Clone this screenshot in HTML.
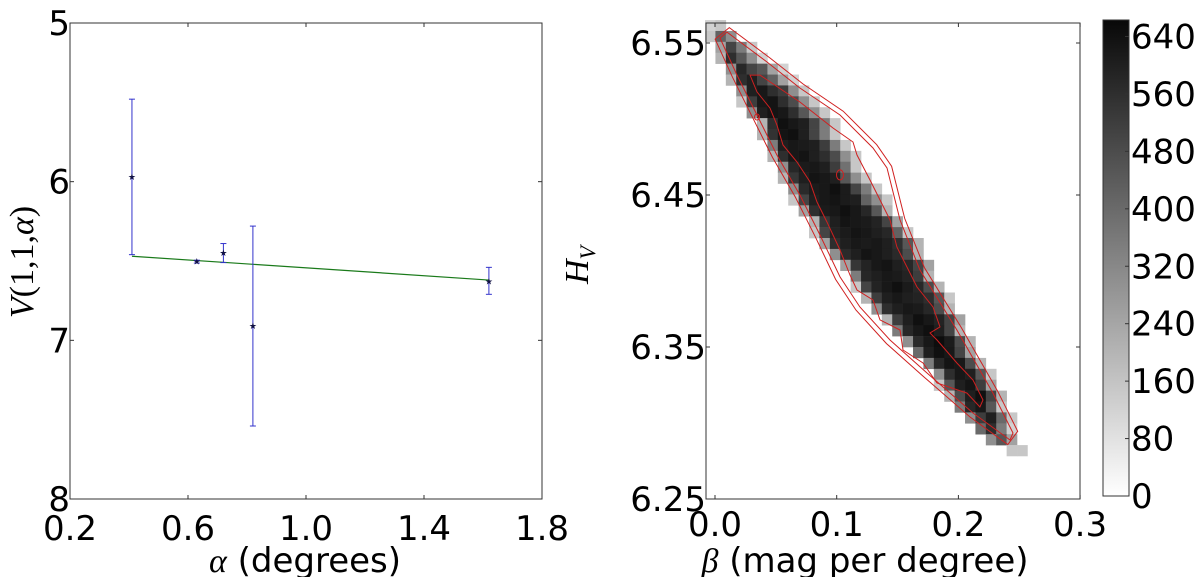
<!DOCTYPE html>
<html><head><meta charset="utf-8"><style>
html,body{margin:0;padding:0;background:#fff;}
svg{display:block;font-family:"DejaVu Sans","Liberation Sans",sans-serif;}
</style></head><body>
<svg id="fig" width="1200" height="577" viewBox="0 0 1200 577" xmlns="http://www.w3.org/2000/svg"></svg>
<script>
// ---- Left panel data ----
const alphaVals = [0.41, 0.63, 0.72, 0.82, 1.62];
const magVals   = [5.97, 6.504, 6.45, 6.91, 6.63];
const errLow    = [5.48, 6.495, 6.39, 6.28, 6.54];
const errHigh   = [6.46, 6.513, 6.51, 7.54, 6.71];
const fitAlpha  = [0.41, 1.62];
const fitMag    = [6.47, 6.62];
const leftXTicks = [0.2, 0.6, 1.0, 1.4, 1.8];
const leftXLabels = ["0.2","0.6","1.0","1.4","1.8"];
const leftYTicks = [5, 6, 7, 8];
const leftYLabels = ["5","6","7","8"];

// ---- Right panel data ----
const binBeta0 = -0.0082, binBetaW = 0.008546;
const binH0 = 6.5651, binHH = 0.00717;
const rowStart = [0,0,1,1,2,2,3,3,4,5,5,6,6,7,7,8,8,9,10,10,11,12,13,14,14,15,16,17,18,19,20,21,22,22,23,24,25,26,27,29];
const rowCounts = [
[120,150],[150,420,300],[250,500,350,150],[200,560,450,300,120],[300,580,500,450,250,120],
[200,560,600,500,420,250,120],[300,600,620,560,520,300,150],[150,520,620,630,560,480,300,150],[300,600,630,620,560,450,300,150],[200,560,640,620,600,500,350,150],
[200,550,630,640,600,500,350,150],[350,600,620,610,600,520,350,150],[200,560,620,630,600,560,480,300,150],[300,580,610,620,600,520,380,150],[200,540,600,630,620,600,450,300,150],
[300,570,610,620,640,610,500,350,150],[150,500,600,620,630,610,600,420,300,150],[250,560,610,620,640,620,580,450,200],[200,540,600,630,620,610,590,500,250],[150,500,590,610,630,620,600,580,420,150],
[250,560,600,620,610,620,600,560,450,200],[300,570,600,630,620,600,570,480,200],[250,540,590,620,630,600,580,500,250],[350,580,600,620,610,590,520,200],[150,500,590,620,640,610,580,480,200],
[200,520,600,620,600,590,560,450,150],[300,560,600,620,610,580,480,200],[200,520,600,640,620,590,500,250],[350,580,620,640,600,500,200],[300,570,620,650,610,480,200],
[400,600,640,620,500,250],[350,580,630,620,480,200],[300,560,620,600,450,150],[150,450,600,630,520,250],[200,480,600,640,500,200],
[350,580,620,450,150],[300,520,600,400,150],[400,560,350,120],[300,450,250],[150,150]
];
const outerBeta = [0.0041,0.0181,0.0345,0.0509,0.0698,0.0863,0.1027,0.1191,0.1438,0.1742,0.2120,0.2424,0.2449,0.2284,0.1988,0.1684,0.1520,0.1413,0.1298,0.1027,0.0698,0.0427,0.0099];
const outerH    = [6.5533,6.5289,6.5026,6.4763,6.45,6.4237,6.3961,6.3763,6.3546,6.3329,6.3066,6.2888,6.2934,6.3197,6.3612,6.4007,6.4336,6.4678,6.4809,6.5026,6.5204,6.5375,6.5572];
const innerBeta = [0.0288,0.0345,0.0452,0.0509,0.0559,0.0674,0.0781,0.0838,0.0920,0.1027,0.1109,0.1167,0.1298,0.1356,0.1520,0.1545,0.1709,0.1824,0.2071,0.2177,0.2202,0.2120,0.1988,0.1824,0.1767,0.1849,0.1791,0.1660,0.1495,0.1438,0.1274,0.1167,0.1134,0.0970,0.0698,0.0370];
const innerH    = [6.5289,6.5178,6.5072,6.4961,6.4829,6.4717,6.4586,6.4454,6.4322,6.4138,6.3974,6.3875,6.3809,6.3678,6.3612,6.3480,6.3395,6.3263,6.3197,6.3105,6.3151,6.3283,6.3395,6.3546,6.3592,6.3632,6.3763,6.3895,6.4158,6.4336,6.4599,6.4763,6.4849,6.4941,6.5112,6.5289];
const peakBeta = [0.0345, 0.1027];
const peakH = [6.5013, 6.4632];
const rightXTicks = [0.0, 0.1, 0.2, 0.3];
const rightXLabels = ["0.0","0.1","0.2","0.3"];
const rightYTicks = [6.25, 6.35, 6.45, 6.55];
const rightYLabels = ["6.25","6.35","6.45","6.55"];
const cbTicks = [0,80,160,240,320,400,480,560,640];
const cbMax = 663;

const NS="http://www.w3.org/2000/svg";
const svg=document.getElementById('fig');
function mk(tag, attrs, parent){const e=document.createElementNS(NS,tag);for(const k in attrs)e.setAttribute(k,attrs[k]);(parent||svg).appendChild(e);return e;}

const FS=34;
const L={x0:70,x1:542,y0:23,y1:499};
const lx=a=>L.x0+(a-0.2)/1.6*(L.x1-L.x0);
const ly=v=>L.y0+(v-5)/3*(L.y1-L.y0);
const R={x0:706,x1:1080,y0:23,y1:499};
const rx=b=>715+b*1217;
const ry=h=>43+(6.55-h)*1520;
const gray=v=>{const g=Math.round(255*(1-Math.min(v,cbMax)/cbMax*0.97));return `rgb(${g},${g},${g})`;};

// ---- Left panel ----
const gl=mk('g',{});


const fit=mk('line',{x1:lx(fitAlpha[0]),y1:ly(fitMag[0]),x2:lx(fitAlpha[1]),y2:ly(fitMag[1]),stroke:'#1a7a1a','stroke-width':1.2},gl);


for(let i=0;i<alphaVals.length;i++){
  const x=lx(alphaVals[i]);
  const g=mk('g',{},gl);
  
  
  mk('line',{x1:x,y1:ly(errLow[i]),x2:x,y2:ly(errHigh[i]),stroke:'#3333cc','stroke-width':1},g);
  mk('line',{x1:x-3,y1:ly(errLow[i]),x2:x+3,y2:ly(errLow[i]),stroke:'#3333cc','stroke-width':1},g);
  mk('line',{x1:x-3,y1:ly(errHigh[i]),x2:x+3,y2:ly(errHigh[i]),stroke:'#3333cc','stroke-width':1},g);
  mk('text',{x:x,y:ly(magVals[i])+3,'font-size':9,'text-anchor':'middle',fill:'#111144'},g).textContent='★';
}
const lframe=mk('rect',{x:L.x0,y:L.y0,width:L.x1-L.x0,height:L.y1-L.y0,fill:'none',stroke:'#333','stroke-width':1},gl);


leftXTicks.forEach((t,i)=>{const x=lx(t);
  mk('line',{x1:x,y1:L.y1,x2:x,y2:L.y1-4,stroke:'#333'},gl);mk('line',{x1:x,y1:L.y0,x2:x,y2:L.y0+4,stroke:'#333'},gl);
  const tx=mk('text',{x:x,y:540,'font-size':FS,'text-anchor':'middle'},gl);tx.textContent=leftXLabels[i];
  
  });
leftYTicks.forEach((t,i)=>{const y=ly(t);
  mk('line',{x1:L.x0,y1:y,x2:L.x0+4,y2:y,stroke:'#333'},gl);mk('line',{x1:L.x1,y1:y,x2:L.x1-4,y2:y,stroke:'#333'},gl);
  const tx=mk('text',{x:70,y:y+12,'font-size':FS,'text-anchor':'end'},gl);tx.textContent=leftYLabels[i];
  
  });
const lxt=mk('text',{x:305,y:572,'font-size':FS,'text-anchor':'middle'},gl);
lxt.innerHTML='<tspan font-family="Liberation Serif,serif" font-style="italic">α</tspan> (degrees)';


const lyt=mk('text',{x:0,y:0,'font-size':FS,'text-anchor':'middle','font-family':'Liberation Serif,serif',transform:'translate(33,262) rotate(-90)'},gl);
lyt.innerHTML='<tspan font-style="italic">V</tspan>(1,1,<tspan font-style="italic">α</tspan>)';



// ---- Right panel ----
const gr=mk('g',{});


const cells=mk('g',{},gr);


rowCounts.forEach((row,r)=>{row.forEach((v,k)=>{
  const c=rowStart[r]+k;
  const b0=binBeta0+c*binBetaW, b1=b0+binBetaW;
  const h0=binH0-r*binHH, h1=h0-binHH;
  const x=rx(b0), y=ry(h0);
  const cell=mk('rect',{x:x,y:y,width:rx(b1)-x+0.3,height:ry(h1)-y+0.3,fill:gray(v)},cells);
  
  
});});
function polyPts(bs,hs,off){
  const n=bs.length,pts=[];
  const P=bs.map((b,i)=>[rx(b),ry(hs[i])]);
  let cx=0,cy=0;P.forEach(p=>{cx+=p[0];cy+=p[1];});cx/=n;cy/=n;
  for(let i=0;i<n;i++){
    const a=P[(i-1+n)%n],b=P[(i+1)%n];
    let nx=b[1]-a[1],ny=-(b[0]-a[0]);const len=Math.hypot(nx,ny)||1;nx/=len;ny/=len;
    if((P[i][0]-cx)*nx+(P[i][1]-cy)*ny<0){nx=-nx;ny=-ny;}
    pts.push((P[i][0]+nx*off).toFixed(1)+','+(P[i][1]+ny*off).toFixed(1));
  }
  return pts.join(' ');
}
const c1=mk('polygon',{points:polyPts(outerBeta,outerH,0),fill:'none',stroke:'#d02020','stroke-width':1},gr);


const c2=mk('polygon',{points:polyPts(outerBeta,outerH,5),fill:'none',stroke:'#d02020','stroke-width':1},gr);


const c3=mk('polygon',{points:polyPts(innerBeta,innerH,0),fill:'none',stroke:'#d02020','stroke-width':1},gr);


peakBeta.forEach((b,i)=>{const e=mk('ellipse',{cx:rx(b),cy:ry(peakH[i]),rx:i?3.5:2.5,ry:i?5:3,fill:'none',stroke:'#d02020','stroke-width':1},gr);
  
  });
const rframe=mk('rect',{x:R.x0,y:R.y0,width:R.x1-R.x0,height:R.y1-R.y0,fill:'none',stroke:'#333','stroke-width':1},gr);


rightXTicks.forEach((t,i)=>{const x=rx(t);
  mk('line',{x1:x,y1:R.y1,x2:x,y2:R.y1-4,stroke:'#333'},gr);mk('line',{x1:x,y1:R.y0,x2:x,y2:R.y0+4,stroke:'#333'},gr);
  const tx=mk('text',{x:x,y:536,'font-size':FS,'text-anchor':'middle'},gr);tx.textContent=rightXLabels[i];
  
  });
rightYTicks.forEach((t,i)=>{const y=ry(t);
  mk('line',{x1:R.x0,y1:y,x2:R.x0+4,y2:y,stroke:'#333'},gr);mk('line',{x1:R.x1,y1:y,x2:R.x1-4,y2:y,stroke:'#333'},gr);
  const tx=mk('text',{x:706,y:y+12,'font-size':FS,'text-anchor':'end'},gr);tx.textContent=rightYLabels[i];
  
  });
const rxt=mk('text',{x:865,y:572,'font-size':FS,'text-anchor':'middle'},gr);
rxt.innerHTML='<tspan font-family="Liberation Serif,serif" font-style="italic">β</tspan> (mag per degree)';


const ryt=mk('text',{x:0,y:0,'font-size':FS,'text-anchor':'middle','font-family':'Liberation Serif,serif','font-style':'italic',transform:'translate(588,265) rotate(-90)'},gr);
ryt.innerHTML='H<tspan font-size="22" dy="7">V</tspan>';



// ---- Colorbar ----
const cb={x:1103,w:26,y0:20,y1:496};
const gc=mk('g',{});


const defs=mk('defs',{},gc);
const lg=mk('linearGradient',{id:'cbg',x1:0,y1:1,x2:0,y2:0},defs);
mk('stop',{offset:0,'stop-color':gray(0)},lg);mk('stop',{offset:1,'stop-color':gray(cbMax)},lg);
mk('rect',{x:cb.x,y:cb.y0,width:cb.w,height:cb.y1-cb.y0,fill:'url(#cbg)',stroke:'#333','stroke-width':1},gc);
const cy=v=>cb.y1-v/cbMax*(cb.y1-cb.y0);
cbTicks.forEach(t=>{const y=cy(t);
  mk('line',{x1:cb.x+cb.w-4,y1:y,x2:cb.x+cb.w,y2:y,stroke:'#333'},gc);
  const tx=mk('text',{x:1131,y:y+12,'font-size':FS},gc);tx.textContent=String(t);
  
  });
</script>
</body></html>
